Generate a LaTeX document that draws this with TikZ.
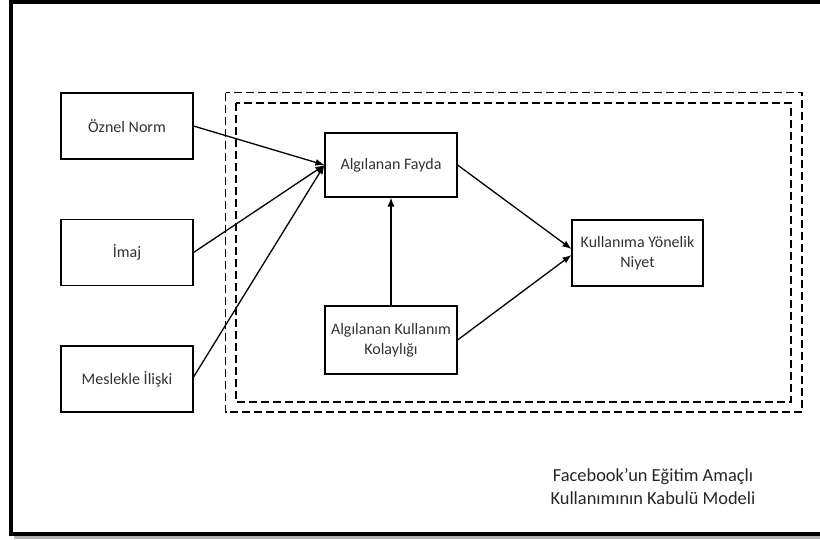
\documentclass[tikz,border=0pt]{standalone}
\usepackage{fontspec}
\setmainfont{Carlito}
\usetikzlibrary{arrows.meta}
\tikzset{
	kutu/.style={draw, line width=1.1pt, minimum width=132pt, minimum height=66pt, align=center, text=black!80, font=\fontsize{16}{20}\selectfont},
	ok/.style={line width=1.3pt, -{Latex[length=9pt,width=7pt]}},
	kesik/.style={line width=1.1pt, dash pattern=on 8pt off 4pt}
}
\begin{document}
\begin{tikzpicture}[x=1pt, y=-1pt]
		\useasboundingbox (0,0) rectangle (820,539);
		\fill[white] (0,0) rectangle (820,539);
		% Frame
		\fill[black!30] (14,535.5) rectangle (840,539);
		\draw[line width=4pt] (11.3,1.5) rectangle (840,533.7);
		% Dashed borders
		\draw[kesik] (225.5,92.5) rectangle (802,412);
		\draw[kesik] (236,103) rectangle (791,402);
		% Boxes
		\node[kutu] (oznel) at (127,126) {Öznel Norm};
		\node[kutu] (imaj) at (127,252.5) {İmaj};
		\node[kutu] (meslek) at (127,379) {Meslekle İlişki};
		\node[kutu, minimum height=64pt] (fayda) at (391,165) {Algılanan Fayda};
		\node[kutu, minimum height=68pt] (kolay) at (391,340) {Algılanan Kullanım\\Kolaylığı};
		\node[kutu, minimum width=131pt] (niyet) at (637.5,253) {Kullanıma Yönelik\\Niyet};
		% Arrows
		\draw[ok] (oznel.east) -- (fayda.west);
		\draw[ok] (imaj.east) -- (fayda.west);
		\draw[ok] ([yshift=2pt]meslek.east) -- (fayda.west);
		\draw[ok] (kolay.north) -- (fayda.south);
		\draw[ok] (fayda.east) -- ([yshift=4pt]niyet.west);
		\draw[ok] (kolay.east) -- ([yshift=-2pt]niyet.west);
		% Caption
		\node[align=center, text=black!85, font=\fontsize{18.4}{23}\selectfont] (baslik) at (653,486.5) {Facebook’un Eğitim Amaçlı\\Kullanımının Kabulü Modeli};
	\end{tikzpicture}
\end{document}
